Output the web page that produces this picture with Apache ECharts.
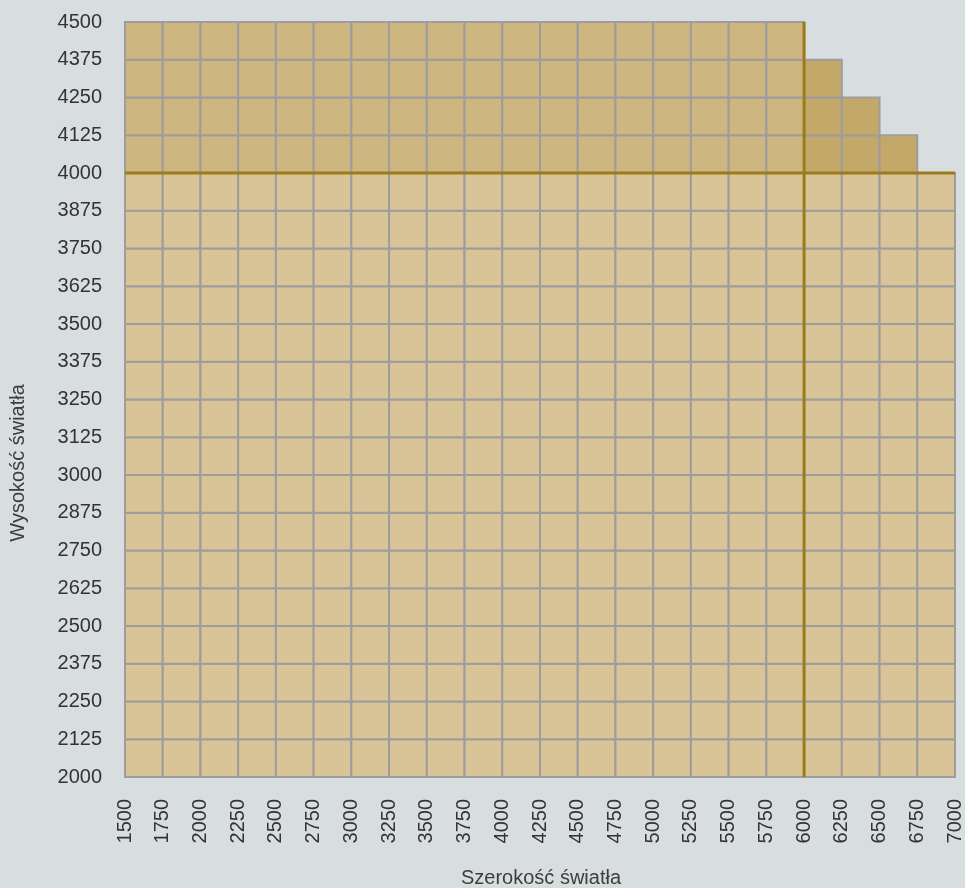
<!DOCTYPE html>
<html>
<head>
<meta charset="utf-8">
<script src="https://cdn.jsdelivr.net/npm/echarts@6/dist/echarts.min.js"></script>
<style>
html,body{margin:0;padding:0;background:#d8dedf;}
#main{width:965px;height:888px;}
</style>
</head>
<body>
<div id="main"></div>
<script>
// Width ticks (Szerokość światła)
var widthTicks = [1500,1750,2000,2250,2500,2750,3000,3250,3500,3750,4000,4250,4500,4750,5000,5250,5500,5750,6000,6250,6500,6750,7000];
// Height ticks (Wysokość światła)
var heightTicks = [2000,2125,2250,2375,2500,2625,2750,2875,3000,3125,3250,3375,3500,3625,3750,3875,4000,4125,4250,4375,4500];
// Max height of each width column (column from widthTicks[i] to widthTicks[i+1])
var columnTops = [4500,4500,4500,4500,4500,4500,4500,4500,4500,4500,4500,4500,4500,4500,4500,4500,4500,4500,4375,4250,4125,4000];
// Reference limits
var heightLimit = 4000;
var widthLimit = 6000;
var xTitle = 'Szerokość światła';
var yTitle = 'Wysokość światła';

var COL_LOW = '#d8c497';
var COL_MID = '#cdb67f';
var COL_HIGH = '#c4a86a';
var COL_BORDER = '#9d9d9d';
var COL_GOLD = '#9c7b1c';

var cells = [];
for (var i = 0; i < widthTicks.length - 1; i++) {
  for (var j = 0; j < heightTicks.length - 1; j++) {
    if (heightTicks[j + 1] <= columnTops[i]) {
      var kind = heightTicks[j + 1] <= heightLimit ? 0 : (widthTicks[i] < widthLimit ? 1 : 2);
      cells.push([widthTicks[i], heightTicks[j], widthTicks[i + 1], heightTicks[j + 1], kind]);
    }
  }
}
var fills = [COL_LOW, COL_MID, COL_HIGH];
var plain = function (v) { return String(v); };

var chart = echarts.init(document.getElementById('main'));
chart.setOption({
  backgroundColor: '#d8dedf',
  animation: false,
  grid: { left: 125, right: 7, top: 22, bottom: 111, containLabel: false },
  xAxis: {
    type: 'value', min: 1500, max: 7000, interval: 250,
    axisLine: { show: false }, axisTick: { show: false }, splitLine: { show: false },
    axisLabel: { rotate: 90, margin: 22, fontSize: 20, color: '#333', fontFamily: 'Liberation Sans', formatter: plain }
  },
  yAxis: {
    type: 'value', min: 2000, max: 4500, interval: 125,
    axisLine: { show: false }, axisTick: { show: false }, splitLine: { show: false },
    axisLabel: { margin: 23, fontSize: 20, color: '#333', fontFamily: 'Liberation Sans', formatter: plain }
  },
  graphic: [
    { type: 'text', x: 541, y: 878, style: { text: xTitle, textAlign: 'center', textVerticalAlign: 'middle', fontSize: 20, fill: '#3d3d3d', fontFamily: 'Liberation Sans' } },
    { type: 'text', x: 18, y: 463, rotation: Math.PI / 2, style: { text: yTitle, textAlign: 'center', textVerticalAlign: 'middle', fontSize: 20, fill: '#3d3d3d', fontFamily: 'Liberation Sans' } }
  ],
  series: [
    {
      type: 'custom',
      data: cells,
      encode: { x: [0, 2], y: [1, 3] },
      renderItem: function (params, api) {
        var p0 = api.coord([api.value(0), api.value(3)]);
        var p1 = api.coord([api.value(2), api.value(1)]);
        return {
          type: 'rect',
          shape: { x: p0[0], y: p0[1], width: p1[0] - p0[0], height: p1[1] - p0[1] },
          style: { fill: fills[api.value(4)], stroke: COL_BORDER, lineWidth: 2 }
        };
      },
      z: 2
    },
    {
      type: 'line', data: [[widthTicks[0], heightLimit], [widthTicks[widthTicks.length - 1], heightLimit]],
      symbol: 'none', lineStyle: { color: COL_GOLD, width: 3 }, z: 5, silent: true
    },
    {
      type: 'line', data: [[widthLimit, heightTicks[0]], [widthLimit, heightTicks[heightTicks.length - 1]]],
      symbol: 'none', lineStyle: { color: COL_GOLD, width: 3 }, z: 5, silent: true
    }
  ]
});
</script>
</body>
</html>
